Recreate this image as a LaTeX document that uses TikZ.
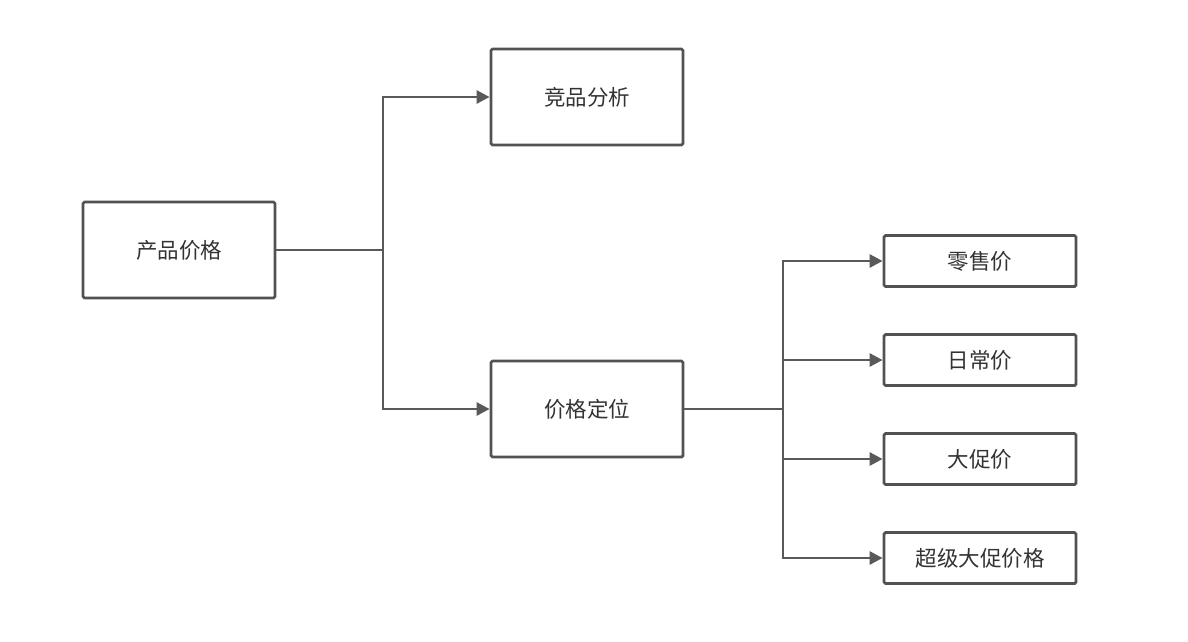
\documentclass[tikz,border=0pt]{standalone}
\usepackage{fontspec}
\newfontfamily\cjk{Noto Sans CJK SC}
\usetikzlibrary{arrows.meta}
\begin{document}
\begin{tikzpicture}[x=1pt,y=-1pt,
  box/.style={draw=black!68, line width=2.8pt, rounded corners=1.5pt, fill=white,
    inner sep=0pt, font=\cjk\fontsize{21.5}{26}\selectfont, text=black!80},
  bigbox/.style={box, minimum width=192pt, minimum height=96pt},
  smallbox/.style={box, minimum width=192pt, minimum height=51pt},
  conn/.style={draw=black!65, line width=2.8pt},
  arr/.style={conn, -{Triangle[length=13pt,width=13pt]}}]
\useasboundingbox (0,0) rectangle (1188,641);
\node[bigbox] (root) at (179,250) {产品价格};
\node[bigbox] (comp) at (587,97) {竞品分析};
\node[bigbox] (pos) at (587,409) {价格定位};
\node[smallbox] (r1) at (980,261) {零售价};
\node[smallbox] (r2) at (980,360) {日常价};
\node[smallbox] (r3) at (980,459) {大促价};
\node[smallbox] (r4) at (980,558) {超级大促价格};
\coordinate (j1) at (383,250);
\coordinate (j2) at (783,409);
\draw[conn] (root.east) -- (j1);
\draw[arr] (j1) |- (comp.west);
\draw[arr] (j1) |- (pos.west);
\draw[conn] (pos.east) -- (j2);
\draw[arr] (j2) |- (r1.west);
\draw[arr] (j2) |- (r2.west);
\draw[arr] (j2) |- (r3.west);
\draw[arr] (j2) |- (r4.west);
\end{tikzpicture}
\end{document}
